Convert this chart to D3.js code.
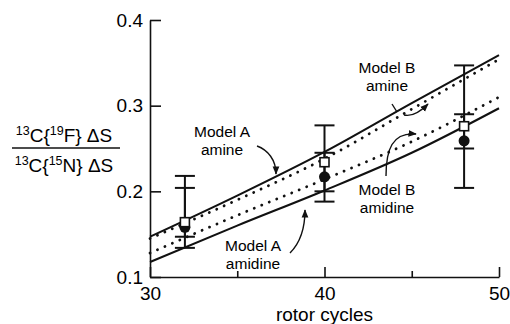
<!DOCTYPE html>
<html>
<head>
<meta charset="utf-8">
<script src="https://cdn.jsdelivr.net/npm/d3@7"></script>
<style>
  body { margin: 0; background: #fff; }
  text { font-family: "Liberation Sans", Arial, Helvetica, sans-serif; fill: #000; }
</style>
</head>
<body>
<div id="chart"></div>
<script>
// model curves, sampled at these rotor cycles
const cycles = [30, 35, 40, 45, 50];
const modelAAmine   = [0.147, 0.195, 0.246, 0.303, 0.359];
const modelBAmine   = [0.145, 0.190, 0.238, 0.296, 0.354];
const modelBAmidine = [0.128, 0.172, 0.214, 0.258, 0.310];
const modelAAmidine = [0.1175, 0.160, 0.201, 0.245, 0.297];

// measured points
const expCycles = [32, 40, 48];
const squareVals = [0.164, 0.234, 0.276];
const squareLo   = [0.134, 0.188, 0.204];
const squareHi   = [0.218, 0.277, 0.347];
const circleVals = [0.158, 0.217, 0.259];
const circleLo   = [0.147, 0.200, 0.250];
const circleHi   = [0.204, 0.245, 0.290];

const xTicks = [30, 40, 50];
const xMinor = [35, 45];
const yTicks = [0.1, 0.2, 0.3, 0.4];

const W = 510, H = 324;
const svg = d3.select('#chart').append('svg').attr('width', W).attr('height', H);

const x = d3.scaleLinear().domain([30, 50]).range([150, 499]);
const y = d3.scaleLinear().domain([0.1, 0.4]).range([277, 20]);

// axes
const yAxis = d3.axisLeft(y).tickValues(yTicks).tickFormat(d3.format('.1f'))
  .tickSizeInner(-11).tickSizeOuter(0).tickPadding(7);
const xAxis = d3.axisBottom(x).tickValues(xTicks).tickFormat(d3.format('d'))
  .tickSizeInner(-10).tickSizeOuter(0).tickPadding(10);
const xAxisMinor = d3.axisBottom(x).tickValues(xMinor).tickFormat('')
  .tickSizeInner(-6).tickSizeOuter(0);

function styleAxis(g) {
  g.selectAll('path, line').attr('stroke', '#111').attr('stroke-width', 1.6);
  g.selectAll('text').style('font-size', '19px').attr('fill', '#000')
    .style('font-family', '"Liberation Sans", Arial, sans-serif');
}

svg.append('g').attr('transform', 'translate(0,' + y(0.1) + ')').call(xAxisMinor).call(styleAxis)
  .select('.domain').remove();
svg.append('g').attr('transform', 'translate(0,' + y(0.1) + ')').call(xAxis).call(styleAxis);
svg.append('g').attr('transform', 'translate(' + x(30) + ',0)').call(yAxis).call(styleAxis);

// axis titles
svg.append('text').attr('x', (x(30) + x(50)) / 2).attr('y', 321)
  .attr('text-anchor', 'middle').style('font-size', '19px').text('rotor cycles');

const frac = svg.append('g');
function fracText(yPos, sup2, tail) {
  const t = frac.append('text').attr('x', 64).attr('y', yPos).attr('text-anchor', 'middle')
    .style('font-size', '19px');
  t.append('tspan').attr('dy', -7).style('font-size', '12.5px').text('13');
  t.append('tspan').attr('dy', 7).text('C{');
  t.append('tspan').attr('dy', -7).style('font-size', '12.5px').text(sup2);
  t.append('tspan').attr('dy', 7).text(tail);
}
fracText(142, '19', 'F} \u0394S');
frac.append('line').attr('x1', 12).attr('x2', 120).attr('y1', 148).attr('y2', 148)
  .attr('stroke', '#111').attr('stroke-width', 1.4);
fracText(172, '15', 'N} \u0394S');

// model curves
const line = d3.line().x(d => x(d[0])).y(d => y(d[1])).curve(d3.curveMonotoneX);
const curves = [
  {vals: modelAAmine, dotted: false},
  {vals: modelBAmine, dotted: true},
  {vals: modelBAmidine, dotted: true},
  {vals: modelAAmidine, dotted: false}
];
svg.append('g').selectAll('path').data(curves).enter().append('path')
  .attr('d', c => line(cycles.map((cy, i) => [cy, c.vals[i]])))
  .attr('fill', 'none').attr('stroke', '#111')
  .attr('stroke-width', c => c.dotted ? 2.8 : 2.1)
  .attr('stroke-linecap', c => c.dotted ? 'round' : 'butt')
  .attr('stroke-dasharray', c => c.dotted ? '0.1,8' : null);

// error bars
const bars = [];
expCycles.forEach((cy, i) => {
  bars.push({cy: cy, lo: squareLo[i], hi: squareHi[i]});
  bars.push({cy: cy, lo: circleLo[i], hi: circleHi[i]});
});
const eb = svg.append('g').attr('stroke', '#111').attr('stroke-width', 2);
eb.selectAll('.stem').data(bars).enter().append('line')
  .attr('x1', d => x(d.cy)).attr('x2', d => x(d.cy))
  .attr('y1', d => y(d.lo)).attr('y2', d => y(d.hi));
const caps = [];
bars.forEach(b => { caps.push({cy: b.cy, v: b.lo}); caps.push({cy: b.cy, v: b.hi}); });
eb.selectAll('.cap').data(caps).enter().append('line')
  .attr('x1', d => x(d.cy) - 10).attr('x2', d => x(d.cy) + 10)
  .attr('y1', d => y(d.v)).attr('y2', d => y(d.v));

// markers
svg.append('g').selectAll('circle').data(expCycles).enter().append('circle')
  .attr('cx', d => x(d)).attr('cy', (d, i) => y(circleVals[i])).attr('r', 5.5)
  .attr('fill', '#111');
svg.append('g').selectAll('rect').data(expCycles).enter().append('rect')
  .attr('x', d => x(d) - 4.5).attr('y', (d, i) => y(squareVals[i]) - 4.5)
  .attr('width', 9).attr('height', 9)
  .attr('fill', '#fff').attr('stroke', '#111').attr('stroke-width', 1.6);

// labels and arrows
svg.append('defs').append('marker').attr('id', 'ah').attr('viewBox', '0 0 10 10')
  .attr('refX', 9).attr('refY', 5).attr('markerWidth', 6).attr('markerHeight', 6)
  .attr('orient', 'auto').append('path').attr('d', 'M0,1 L10,5 L0,9 Z').attr('fill', '#111');

const labels = [
  {t: ['Model A', 'amine'], x: 222, y: 137},
  {t: ['Model B', 'amine'], x: 387, y: 73},
  {t: ['Model B', 'amidine'], x: 387, y: 195},
  {t: ['Model A', 'amidine'], x: 253, y: 251}
];
labels.forEach(l => {
  l.t.forEach((s, i) => svg.append('text').attr('x', l.x).attr('y', l.y + i * 17.5)
    .attr('text-anchor', 'middle').style('font-size', '15.5px').text(s));
});

const arrows = [
  'M257,146 C268,150 276,160 276,174',
  'M404,115 C412,117 420,112 428,104',
  'M386,176 C386,150 392,132 416,134',
  'M290,253 C300,243 305,228 305,210'
];
const ag = svg.append('g').attr('fill', 'none').attr('stroke', '#111').attr('stroke-width', 1.4);
arrows.forEach(a => ag.append('path').attr('d', a).attr('marker-end', 'url(#ah)'));
// leader tick for Model B amine
ag.append('line').attr('x1', 392).attr('y1', 104).attr('x2', 397).attr('y2', 112);
</script>
</body>
</html>
